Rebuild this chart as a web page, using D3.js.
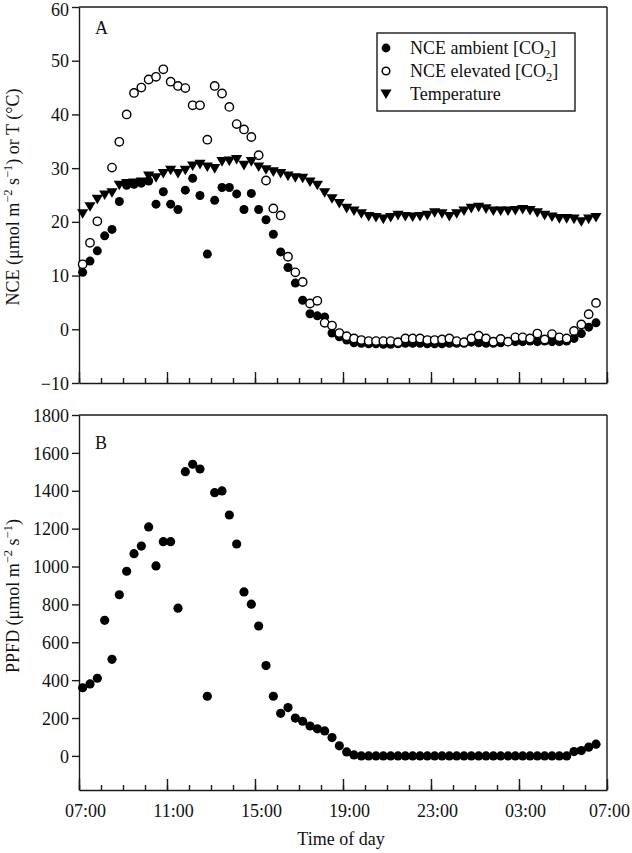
<!DOCTYPE html>
<html>
<head>
<meta charset="utf-8">
<script src="https://cdn.jsdelivr.net/npm/d3@7"></script>
<style>
  html, body { margin: 0; padding: 0; background: #fff; }
  svg { display: block; }
  text { font-family: "Liberation Serif", "Times New Roman", serif; fill: #111; }
</style>
</head>
<body>
<svg id="chart" width="632" height="853"></svg>
<script>
// ---- data ----
const times = ["07:10","07:30","07:50","08:10","08:30","08:50","09:10","09:30","09:50","10:10","10:30","10:50",
  "11:10","11:30","11:50","12:10","12:30","12:50","13:10","13:30","13:50","14:10","14:30","14:50",
  "15:10","15:30","15:50","16:10","16:30","16:50","17:10","17:30","17:50","18:10","18:30","18:50",
  "19:10","19:30","19:50","20:10","20:30","20:50","21:10","21:30","21:50","22:10","22:30","22:50",
  "23:10","23:30","23:50","00:10","00:30","00:50","01:10","01:30","01:50","02:10","02:30","02:50",
  "03:10","03:30","03:50","04:10","04:30","04:50","05:10","05:30","05:50","06:10","06:30"];

const nceAmbient = [10.6,12.7,14.6,17.4,18.6,23.8,26.8,27.0,27.2,27.6,23.3,25.6,
  23.3,22.3,25.9,28.1,24.9,14.0,24.0,26.4,26.4,25.2,22.3,25.3,
  22.3,20.4,17.7,14.4,11.5,8.6,5.4,2.9,2.5,2.3,-0.7,-1.4,
  -2.0,-2.5,-2.6,-2.7,-2.7,-2.8,-2.8,-2.7,-2.6,-2.6,-2.6,-2.7,
  -2.7,-2.7,-2.6,-2.6,-2.6,-2.4,-2.5,-2.6,-2.6,-2.5,-2.3,-2.3,
  -2.3,-2.2,-2.3,-2.2,-2.3,-2.3,-2.2,-1.7,-0.8,0.4,1.2];

const nceElevated = [12.1,16.1,20.1,null,30.1,34.9,40.0,44.0,45.0,46.5,47.0,48.4,
  46.1,45.3,44.9,41.7,41.7,35.3,45.3,43.9,41.4,38.2,37.2,35.8,
  32.4,27.7,22.5,21.2,13.5,10.6,8.8,4.8,5.3,1.2,0.7,-0.7,
  -1.3,-1.7,-2.0,-2.2,-2.2,-2.2,-2.2,-2.4,-1.7,-1.7,-1.7,-2.0,
  -2.0,-1.9,-1.7,-2.2,-2.4,-1.7,-1.2,-1.7,-2.3,-1.8,-2.3,-1.5,
  -1.5,-1.7,-0.8,-1.9,-0.9,-1.5,-1.7,-0.3,0.9,2.8,4.9];

const temperature = [21.5,22.8,24.2,25.0,25.4,26.8,27.1,27.2,27.4,28.5,28.2,29.0,
  29.6,29.0,29.6,30.4,30.7,30.2,29.9,31.2,31.3,31.6,30.5,31.2,
  30.2,29.7,29.3,29.0,28.5,28.2,28.1,27.4,26.8,25.4,24.3,23.4,
  22.5,22.0,21.5,21.0,20.8,20.5,20.8,21.2,21.0,20.9,21.0,21.2,
  21.7,21.5,21.0,21.5,22.0,22.5,22.7,22.4,22.0,22.0,22.0,22.1,
  22.3,22.1,21.7,21.2,20.9,20.6,20.6,20.5,20.0,20.5,20.8];

const ppfd = [360,380,410,716,510,851,975,1068,1108,1209,1003,1131,
  1131,780,1501,1540,1515,315,1390,1399,1272,1119,866,801,
  686,477,315,225,255,200,183,158,143,132,97,53,
  21,5,0,0,0,0,0,0,0,0,0,0,
  0,0,0,0,0,0,0,0,0,0,0,0,
  0,0,0,0,0,0,0,23,28,46,62];

const yTicksA = [-10,0,10,20,30,40,50,60];
const yTicksB = [0,200,400,600,800,1000,1200,1400,1600,1800];
const xTickLabels = ["07:00","11:00","15:00","19:00","23:00","03:00","07:00"];
const legendLabels = ["NCE ambient [CO", "NCE elevated [CO", "Temperature"];

// ---- helpers ----
function toHours(s) {
  const [h, m] = s.split(":").map(Number);
  let v = h + m / 60;
  if (v < 7) v += 24;
  return v;
}
const tHours = times.map(toHours);
const majorTicks = xTickLabels.map((s, i) => (i === xTickLabels.length - 1 ? 31 : toHours(s)));
const minorTicks = d3.range(7, 32);

const svg = d3.select("#chart");
const FS = 18;
const SUB = 12.5;
const axisColor = "#1a1a1a";

const x = d3.scaleLinear().domain([7, 31]).range([79, 607]);
const yA = d3.scaleLinear().domain([-10, 60]).range([383, 7]);
const yB = d3.scaleLinear().domain([-180, 1800]).range([790, 415]);

function styleAxis(g) {
  g.selectAll("path, line").attr("stroke", axisColor).attr("stroke-width", 1.4);
  g.selectAll("text").attr("font-size", FS).attr("fill", "#111")
    .attr("font-family", '"Liberation Serif", "Times New Roman", serif');
}

function drawFrame(y, yTicks, showLabels) {
  const [y0, y1] = y.range();
  svg.append("line").attr("x1", x.range()[0]).attr("x2", x.range()[1])
    .attr("y1", y1).attr("y2", y1).attr("stroke", axisColor).attr("stroke-width", 1.4);
  svg.append("line").attr("x1", x.range()[1]).attr("x2", x.range()[1])
    .attr("y1", y1).attr("y2", y0).attr("stroke", axisColor).attr("stroke-width", 1.4);

  const gl = svg.append("g").attr("transform", `translate(${x.range()[0]},0)`)
    .call(d3.axisLeft(y).tickValues(yTicks).tickSize(7).tickSizeOuter(0).tickPadding(3).tickFormat(d3.format("d")));
  styleAxis(gl);
  gl.selectAll("text").attr("dy", "0.34em");
  // keep the topmost label inside the picture
  gl.selectAll("text").filter(d => y(d) < 12).attr("y", 2);

  const gm = svg.append("g").attr("transform", `translate(0,${y0})`)
    .call(d3.axisBottom(x).tickValues(minorTicks).tickSize(-5).tickSizeOuter(0).tickFormat(""));
  styleAxis(gm);
  const gM = svg.append("g").attr("transform", `translate(0,${y0})`)
    .call(d3.axisBottom(x).tickValues(majorTicks).tickSize(-11).tickSizeOuter(0)
      .tickPadding(14).tickFormat((d, i) => showLabels ? xTickLabels[i] : ""));
  styleAxis(gM);
  gM.select(".domain").remove();
  gM.selectAll("text").attr("dx", (d, i) => i === majorTicks.length - 1 ? 2 : 6);
}

const triPath = "M-5.6,-4.6L5.6,-4.6L0,5Z";

// ---- Panel A ----
drawFrame(yA, yTicksA, false);

svg.append("text").attr("x", 95).attr("y", 34).attr("font-size", FS).text("A");

const gA = svg.append("g");
gA.selectAll("circle.amb").data(nceAmbient).join("circle")
  .attr("class", "amb")
  .attr("cx", (d, i) => x(tHours[i])).attr("cy", d => yA(d)).attr("r", 4.5)
  .attr("fill", "#000");
const elevPts = nceElevated.map((v, i) => ({ t: tHours[i], v })).filter(d => d.v !== null);
gA.selectAll("circle.elev").data(elevPts).join("circle")
  .attr("class", "elev")
  .attr("cx", d => x(d.t)).attr("cy", d => yA(d.v)).attr("r", 4.2)
  .attr("fill", "#fff").attr("stroke", "#000").attr("stroke-width", 1.4);
gA.selectAll("path.temp").data(temperature).join("path")
  .attr("class", "temp")
  .attr("d", triPath)
  .attr("transform", (d, i) => `translate(${x(tHours[i])},${yA(d)})`)
  .attr("fill", "#000");

// legend
const lg = svg.append("g");
lg.append("rect").attr("x", 377).attr("y", 33).attr("width", 198).attr("height", 78)
  .attr("fill", "#fff").attr("stroke", axisColor).attr("stroke-width", 1.4);
const rowsY = [48, 71, 94];
lg.append("circle").attr("cx", 386).attr("cy", rowsY[0]).attr("r", 4.4).attr("fill", "#000");
lg.append("circle").attr("cx", 386).attr("cy", rowsY[1]).attr("r", 3.8)
  .attr("fill", "#fff").attr("stroke", "#000").attr("stroke-width", 1.5);
lg.append("path").attr("d", triPath).attr("transform", `translate(386,${rowsY[2]})`).attr("fill", "#000");
legendLabels.forEach((lab, i) => {
  const t = lg.append("text").attr("x", 410).attr("y", rowsY[i] + 6).attr("font-size", FS);
  t.append("tspan").text(lab);
  if (i < 2) {
    t.append("tspan").attr("font-size", SUB).attr("dy", 4).text("2");
    t.append("tspan").attr("dy", -4).text("]");
  }
});

// y label A
const ylA = svg.append("text").attr("transform", "translate(19,197) rotate(-90)")
  .attr("text-anchor", "middle").attr("font-size", FS);
ylA.append("tspan").text("NCE (\u03bcmol m");
ylA.append("tspan").attr("font-size", SUB).attr("dy", -7).text("\u22122");
ylA.append("tspan").attr("dy", 7).text(" s");
ylA.append("tspan").attr("font-size", SUB).attr("dy", -7).text("\u22121");
ylA.append("tspan").attr("dy", 7).text(") or T (\u00b0C)");

// ---- Panel B ----
drawFrame(yB, yTicksB, true);
svg.append("text").attr("x", 95).attr("y", 449).attr("font-size", FS).text("B");

svg.append("g").selectAll("circle").data(ppfd).join("circle")
  .attr("cx", (d, i) => x(tHours[i])).attr("cy", d => yB(d)).attr("r", 4.6)
  .attr("fill", "#000");

const ylB = svg.append("text").attr("transform", "translate(19,596) rotate(-90)")
  .attr("text-anchor", "middle").attr("font-size", FS);
ylB.append("tspan").text("PPFD (\u03bcmol m");
ylB.append("tspan").attr("font-size", SUB).attr("dy", -7).text("\u22122");
ylB.append("tspan").attr("dy", 7).text(" s");
ylB.append("tspan").attr("font-size", SUB).attr("dy", -7).text("\u22121");
ylB.append("tspan").attr("dy", 7).text(")");

svg.append("text").attr("x", 341).attr("y", 845).attr("text-anchor", "middle")
  .attr("font-size", FS).text("Time of day");
</script>
</body>
</html>
